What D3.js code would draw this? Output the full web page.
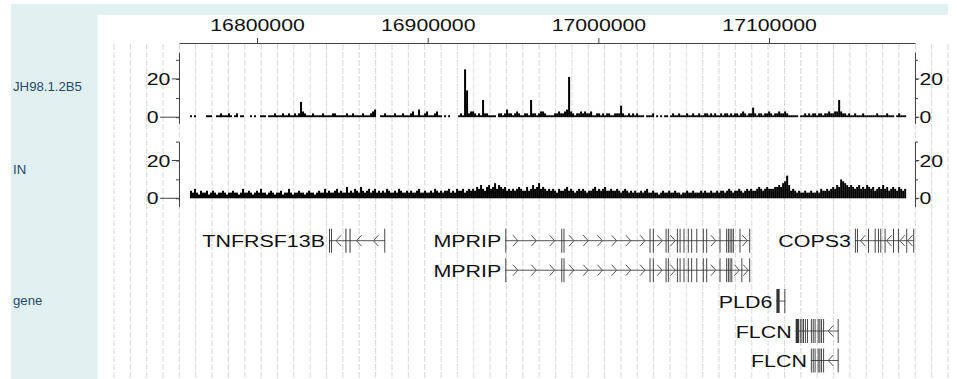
<!DOCTYPE html>
<html>
<head>
<meta charset="utf-8">
<script src="https://cdn.jsdelivr.net/npm/d3@7/dist/d3.min.js"></script>
<style>
  body { margin: 0; background: #fff; }
  text { font-family: "Liberation Sans", Arial, sans-serif; }
</style>
</head>
<body>
<svg id="chart" width="957" height="379"></svg>
<script>
// genome window shown and its axis ticks
var viewRange = [16754300, 17185500];
var axisTicks = [16800000, 16900000, 17000000, 17100000];

var trackNames = ["JH98.1.2B5", "IN", "gene"];
var yTicks = [0, 10, 20, 30];
var yLabels = [0, 20];

// coverage bins (start + i * binSize)
var binStart = 16760750;
var binSize = 1172;

var chipValues = [
  1,0,1,0,0,0,0,0,1,1, 1,0,0,1,1,2,1,1,1,2, 1,0,1,2,0,1,1,0,0,0, 1,0,1,0,0,1,1,1,0,1,
  1,1,2,1,1,1,2,1,1,2, 1,1,2,1,2,8,3,2,1,1, 1,2,1,1,1,1,2,1,1,1, 1,2,2,1,1,1,1,1,2,1,
  1,2,1,1,1,1,2,1,1,1, 2,3,4,0,0,1,1,2,1,1, 1,1,2,1,1,1,2,1,1,1, 2,3,1,1,4,1,1,2,3,1,
  1,1,2,3,1,1,0,1,0,1, 0,0,0,0,1,2,1,25,14,2, 3,3,2,1,2,1,9,2,2,1, 1,1,1,0,2,2,1,2,4,2,
  2,1,2,3,2,1,1,2,2,1, 9,2,2,1,2,3,3,2,1,1, 1,1,2,2,3,2,2,3,4,21, 3,2,1,2,2,3,2,3,2,2,
  3,1,1,2,2,1,2,1,2,2, 1,1,2,2,2,6,2,1,1,2, 1,2,1,2,1,1,1,0,1,1, 1,2,0,1,0,1,0,1,1,0,
  1,2,1,1,2,1,1,1,2,1, 1,2,1,1,2,1,1,2,2,1, 2,1,2,1,1,2,1,2,2,1, 2,1,2,2,1,2,3,2,1,2,
  2,5,2,1,2,2,1,2,2,3, 2,1,2,2,3,2,2,3,2,1, 1,1,1,1,0,1,1,2,1,2, 1,2,2,1,2,2,1,2,2,3,
  2,2,3,3,9,3,2,2,1,2, 1,1,2,1,1,1,2,1,1,1, 1,1,1,2,1,1,1,1,2,1, 1,1,0,1,2,1,1,1
];

var inputValues = [
  4,3,5,3,2,4,3,3,4,2, 3,4,3,2,3,3,4,3,2,3, 3,4,3,3,2,3,5,3,3,4, 3,2,3,4,3,5,3,3,2,3,
  4,3,2,3,3,4,2,3,3,5, 3,2,3,3,4,3,3,2,3,4, 3,3,2,3,4,3,3,5,3,4, 3,3,4,5,3,4,3,3,6,3,
  4,3,5,4,3,6,4,3,4,5, 3,4,5,3,4,3,4,3,5,4, 3,3,4,3,5,4,3,3,4,3, 4,3,3,4,5,3,3,4,3,3,
  4,3,5,4,3,4,3,4,4,5, 3,4,3,5,4,4,5,3,4,5, 4,5,4,6,5,7,5,4,6,7, 5,6,8,5,7,6,5,6,4,5,
  4,5,4,5,6,5,4,4,6,4, 5,7,5,6,8,5,6,5,4,5, 4,5,4,3,5,4,4,5,6,4, 5,4,3,4,5,4,5,4,3,4,
  4,5,6,4,5,4,5,6,4,4, 5,4,4,5,4,3,4,5,4,3, 4,3,4,3,3,4,3,4,5,3, 3,4,3,3,2,3,4,3,3,4,
  3,3,4,3,3,2,3,3,4,3, 3,4,3,3,3,4,3,4,3,3, 4,3,3,4,3,4,4,3,4,5, 4,3,4,4,5,4,3,4,5,4,
  5,4,4,5,6,5,4,5,6,5, 5,5,6,6,7,6,8,9,12,7, 4,5,4,3,4,3,3,4,3,3, 4,3,3,4,3,5,4,4,5,4,
  5,6,5,7,6,10,9,8,7,6, 7,6,5,6,7,5,6,5,7,6, 5,6,4,5,6,5,7,5,6,4, 5,6,5,4,6,5,4,5
];

// gene models
var geneNames = ["TNFRSF13B", "MPRIP", "COPS3", "MPRIP", "PLD6", "FLCN", "FLCN"];
var geneStrands = ["-", "+", "-", "+", "-", "-", "-"];
var geneRows = [0, 0, 0, 1, 2, 3, 4];
var geneExons = [
  [[16842200,16842700],[16843400,16843900],[16851800,16852400],[16854200,16854800],[16874600,16875000]],
  [[16945500,16946000],[16978300,16978800],[16979600,16980100],[17030000,17030500],[17031900,17032400],
   [17039400,17039900],[17040700,17041200],[17046000,17046500],[17047600,17048100],[17049900,17050400],
   [17052400,17052900],[17054400,17054900],[17057400,17057900],[17061200,17061700],[17063200,17063700],
   [17071000,17071500],[17074900,17075400],[17075900,17076400],[17076900,17077400],[17077900,17078400],
   [17078800,17079300],[17082700,17083200],[17088400,17088900]],
  [[17150300,17150800],[17151500,17151900],[17158000,17158400],[17161900,17162300],[17163800,17164200],
   [17165200,17165600],[17167700,17168100],[17172600,17173000],[17175500,17175900],[17180400,17180800],
   [17184500,17184900]],
  [[16945500,16946000],[16978300,16978800],[16979600,16980100],[17030000,17030500],[17031900,17032400],
   [17039400,17039900],[17040700,17041200],[17046000,17046500],[17047600,17048100],[17049900,17050400],
   [17052400,17052900],[17054400,17054900],[17057400,17057900],[17061200,17061700],[17063200,17063700],
   [17071000,17071500],[17074900,17075400],[17075900,17076400],[17076900,17077400],[17077900,17078400],
   [17083800,17084300],[17088400,17088900]],
  [[17104300,17106200],[17109000,17109400]],
  [[17115600,17117500],[17118000,17118500],[17119000,17119400],[17119900,17120300],[17121000,17121400],
   [17122300,17122700],[17124500,17124900],[17125600,17126000],[17126700,17127100],[17128500,17128900],
   [17129500,17129900],[17130400,17130800],[17131700,17132100],[17140200,17140600]],
  [[17124500,17124900],[17125600,17126000],[17126700,17127100],[17128500,17128900],[17129500,17129900],
   [17130400,17130800],[17131700,17132100],[17140200,17140600]]
];

var svg = d3.select("#chart");
var W = 957, H = 379;
var panelLeft = 97.6, panelRight = 948;

// backgrounds
svg.append("rect").attr("x", 11).attr("y", 4).attr("width", panelRight - 11).attr("height", H)
  .attr("fill", "#e1f0f0");
svg.append("rect").attr("x", panelLeft).attr("y", 14.7).attr("width", W - panelLeft).attr("height", H)
  .attr("fill", "#fff");

// grid
var gridStep = (panelRight - panelLeft) / 52;
svg.append("g").selectAll("line")
  .data(d3.range(1, 53))
  .enter().append("line")
  .attr("x1", function (d) { return panelLeft + d * gridStep; })
  .attr("x2", function (d) { return panelLeft + d * gridStep; })
  .attr("y1", 44).attr("y2", H)
  .attr("stroke", "#d8d8e0").attr("stroke-width", 1).attr("stroke-dasharray", "6,2");

var x = d3.scaleLinear().domain(viewRange).range([179, 915]);

function stretch(sel, sx) {
  sel.each(function () {
    var t = d3.select(this);
    var prev = t.attr("transform") || "";
    t.attr("transform", prev + " scale(" + sx + ",1)");
  });
}

// genome axis
var gAxis = svg.append("g").attr("transform", "translate(0,43)")
  .call(d3.axisTop(x).tickValues(axisTicks).tickSize(5).tickSizeOuter(0).tickPadding(7)
    .tickFormat(d3.format("d")));
gAxis.select(".domain").attr("stroke", "#444");
gAxis.selectAll(".tick line").attr("stroke", "#444");
gAxis.selectAll("text").attr("font-size", 17).attr("fill", "#111")
  .attr("font-family", "Liberation Sans, Arial, sans-serif");
stretch(gAxis.selectAll("text"), 1.25);

// titles
var titleY = [91, 174, 305];
svg.append("g").selectAll("text")
  .data(trackNames)
  .enter().append("text")
  .attr("transform", function (d, i) { return "translate(13," + titleY[i] + ") scale(1.1,1)"; })
  .attr("font-size", 12).attr("fill", "#264a6e")
  .text(function (d) { return d; });

// data tracks
function dataTrack(values, zeroY, topY, extent) {
  var y = d3.scaleLinear().domain([0, 30]).range([zeroY, topY]);
  var g = svg.append("g");

  g.selectAll("rect")
    .data(values)
    .enter().append("rect")
    .attr("x", function (d, i) { return x(binStart + i * binSize); })
    .attr("width", function (d, i) { return x(binStart + (i + 1) * binSize) - x(binStart + i * binSize); })
    .attr("y", function (d) { return y(d); })
    .attr("height", function (d) { return y(0) - y(d); })
    .attr("fill", "#000");

  var yAx = y.copy().domain(extent).range([y(extent[0]), y(extent[1])]);

  // axis lines with short minor ticks
  g.append("g").attr("transform", "translate(179,0)")
    .call(d3.axisLeft(yAx).tickValues(yTicks).tickSize(3).tickSizeOuter(0).tickFormat(""));
  g.append("g").attr("transform", "translate(915,0)")
    .call(d3.axisRight(yAx).tickValues(yTicks).tickSize(3).tickSizeOuter(0).tickFormat(""));

  // left labels: left aligned, tick runs from label to axis line
  var labL = g.append("g").selectAll("g").data(yLabels).enter().append("g");
  labL.append("text")
    .attr("transform", function (d) { return "translate(146.7," + yAx(d) + ") scale(1.25,1)"; })
    .attr("dy", "0.36em")
    .attr("font-size", 17).attr("fill", "#111")
    .text(function (d) { return d; });
  labL.append("line")
    .attr("x1", function () {
      var tw = d3.select(this.parentNode).select("text").node().getComputedTextLength() * 1.25;
      return 146.7 + tw + 1.5;
    })
    .attr("x2", 179)
    .attr("y1", function (d) { return yAx(d); })
    .attr("y2", function (d) { return yAx(d); });

  // right labels
  var labR = g.append("g").selectAll("g").data(yLabels).enter().append("g");
  labR.append("line").attr("x1", 915).attr("x2", 919.3)
    .attr("y1", function (d) { return yAx(d); })
    .attr("y2", function (d) { return yAx(d); });
  labR.append("text")
    .attr("transform", function (d) { return "translate(919.5," + yAx(d) + ") scale(1.25,1)"; })
    .attr("dy", "0.36em")
    .attr("font-size", 17).attr("fill", "#111")
    .text(function (d) { return d; });

  g.selectAll(".domain, .tick line, line").attr("stroke", "#444");
}

dataTrack(chipValues, 117.2, 59.8, [-3.2, 34]);
dataTrack(inputValues, 198.3, 141.6, [-4.4, 30]);

// gene track
var rowY = [240.7, 270.2, 301, 331, 360.5];
var gGenes = svg.append("g");

geneNames.forEach(function (name, gi) {
  var exons = geneExons[gi];
  var cy = rowY[geneRows[gi]];
  var x0 = x(exons[0][0]), x1 = x(exons[exons.length - 1][1]);
  var g = gGenes.append("g");

  g.append("line").attr("x1", x0).attr("x2", x1).attr("y1", cy).attr("y2", cy)
    .attr("stroke", "#555").attr("stroke-width", 1);

  // strand chevrons inside each intron
  var chev = [];
  for (var k = 0; k < exons.length - 1; k++) {
    var a = x(exons[k][1]), b = x(exons[k + 1][0]), w = b - a;
    if (w < 6) continue;
    var n = Math.max(1, Math.floor(w / 14));
    for (var j = 0; j < n; j++) chev.push(a + w * (j + 0.5) / n);
  }
  var dir = geneStrands[gi] === "+" ? 1 : -1;
  g.selectAll("path.chev")
    .data(chev)
    .enter().append("path")
    .attr("class", "chev")
    .attr("d", function (c) {
      return "M" + (c - dir * 2.5) + "," + (cy - 5.5) + "L" + (c + dir * 2.5) + "," + cy +
        "L" + (c - dir * 2.5) + "," + (cy + 5.5);
    })
    .attr("fill", "none").attr("stroke", "#555").attr("stroke-width", 1);

  g.selectAll("rect")
    .data(exons)
    .enter().append("rect")
    .attr("x", function (e) { return x(e[0]); })
    .attr("width", function (e) { return Math.max(0.9, x(e[1]) - x(e[0])); })
    .attr("y", cy - 12).attr("height", 24)
    .attr("fill", "#333");

  g.append("text")
    .attr("transform", "translate(" + (x0 - 4) + "," + (cy + 6.5) + ") scale(1.3,1)")
    .attr("text-anchor", "end")
    .attr("font-size", 16.5).attr("fill", "#111")
    .text(name);
});
</script>
</body>
</html>
